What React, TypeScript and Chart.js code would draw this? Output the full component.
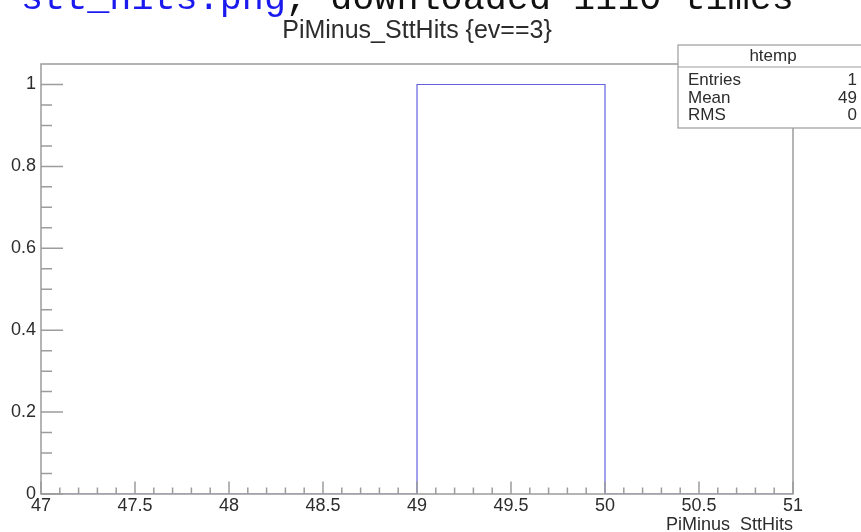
import { useEffect, useRef } from 'react';
import { Chart, registerables, type ChartConfiguration, type Plugin } from 'chart.js';

Chart.register(...registerables);

// histogram htemp: bin edges and bin contents
const BIN_EDGES = [47, 48, 49, 50, 51];
const BIN_COUNTS = [0, 0, 1, 0];
const X_TICK_LABELS = ['47', '47.5', '48', '48.5', '49', '49.5', '50', '50.5', '51'];
const Y_TICK_LABELS = ['0', '0.2', '0.4', '0.6', '0.8', '1'];
const STAT_NAMES = ['Entries', 'Mean', 'RMS'];
const STAT_VALUES = ['1', '49', '0'];
const HIST_NAME = 'htemp';
const TITLE = 'PiMinus_SttHits {ev==3}';
const X_TITLE = 'PiMinus_SttHits';
const FILE_LINK = 'stt_hits.png';
const FILE_NOTE = ', downloaded 1110 times';

const SANS = '"Liberation Sans", Arial, Helvetica, sans-serif';
const MONO = '"Liberation Mono", "Courier New", monospace';
const FRAME = '#9c9c9c';
const TEXT = '#2c2c2c';

const rootPad: Plugin<'line'> = {
  id: 'rootPad',
  afterDatasetsDraw(chart) {
    const { ctx, chartArea: a, scales } = chart;
    const xs = scales.x;
    const ys = scales.y;
    ctx.save();

    // frame + inward ticks (ROOT style)
    ctx.strokeStyle = FRAME;
    ctx.lineWidth = 1.5;
    ctx.strokeRect(a.left, a.top, a.right - a.left, a.bottom - a.top);
    ctx.beginPath();
    for (let i = 0; i * 0.05 < ys.max - 0.01; i++) {
      const p = ys.getPixelForValue(i * 0.05);
      ctx.moveTo(a.left, p);
      ctx.lineTo(a.left + (i % 4 === 0 ? 22 : 11), p);
    }
    for (let i = 0; xs.min + i * 0.1 <= xs.max + 1e-6; i++) {
      const p = xs.getPixelForValue(xs.min + i * 0.1);
      ctx.moveTo(p, a.bottom);
      ctx.lineTo(p, a.bottom - (i % 5 === 0 ? 12.5 : 6.5));
    }
    ctx.stroke();

    // title
    ctx.fillStyle = TEXT;
    ctx.font = `25px ${SANS}`;
    ctx.textAlign = 'center';
    ctx.textBaseline = 'alphabetic';
    ctx.fillText(TITLE, (a.left + a.right) / 2, 38);

    // stats box
    ctx.fillStyle = '#fff';
    ctx.fillRect(678, 45, 200, 83);
    ctx.strokeStyle = FRAME;
    ctx.lineWidth = 1.2;
    ctx.strokeRect(678, 45, 200, 83);
    ctx.beginPath();
    ctx.moveTo(678, 67);
    ctx.lineTo(878, 67);
    ctx.stroke();
    ctx.fillStyle = TEXT;
    ctx.font = `17px ${SANS}`;
    ctx.fillText(HIST_NAME, 773, 61);
    STAT_NAMES.forEach((n, i) => {
      const by = 85 + i * 17.5;
      ctx.textAlign = 'left';
      ctx.fillText(n, 688, by);
      ctx.textAlign = 'right';
      ctx.fillText(STAT_VALUES[i], 857, by);
    });

    // page header line, cut off at the top
    ctx.font = `36.8px ${MONO}`;
    ctx.textAlign = 'left';
    ctx.fillStyle = '#1a1aee';
    ctx.fillText(FILE_LINK, 21, 9);
    const w = ctx.measureText(FILE_LINK).width;
    ctx.fillStyle = '#111';
    ctx.fillText(FILE_NOTE, 21 + w, 9);

    ctx.restore();
  },
};

export default function App() {
  const canvasRef = useRef<HTMLCanvasElement>(null);
  const chartRef = useRef<Chart | null>(null);

  useEffect(() => {
    if (!canvasRef.current) return;
    chartRef.current?.destroy();

    const points = BIN_EDGES.map((e, i) => ({ x: e, y: i < BIN_COUNTS.length ? BIN_COUNTS[i] : 0 }));

    const config: ChartConfiguration<'line'> = {
      type: 'line',
      data: {
        datasets: [{
          label: HIST_NAME,
          data: points,
          stepped: 'before',
          borderColor: '#6363e2',
          borderWidth: 1.2,
          pointRadius: 0,
          fill: false,
        }],
      },
      options: {
        responsive: false,
        animation: false,
        layout: { padding: { left: 0, right: 68, top: 64, bottom: 0 } },
        plugins: { legend: { display: false }, tooltip: { enabled: false } },
        scales: {
          x: {
            type: 'linear',
            min: 47,
            max: 51,
            grid: { display: false, drawTicks: false },
            border: { display: false },
            ticks: {
              stepSize: 0.5,
              autoSkip: false,
              maxRotation: 0,
              padding: 1,
              color: TEXT,
              font: { family: SANS, size: 18 },
              callback: (_v, i) => X_TICK_LABELS[i],
            },
            title: {
              display: true,
              text: X_TITLE,
              align: 'end',
              color: TEXT,
              font: { family: SANS, size: 18, lineHeight: 1 },
              padding: { top: 0, bottom: -2 },
            },
            afterFit: (s) => { s.height = 38; },
          },
          y: {
            min: 0,
            max: 1.05,
            grid: { display: false, drawTicks: false },
            border: { display: false },
            ticks: {
              stepSize: 0.2,
              includeBounds: false,
              padding: 5,
              color: TEXT,
              font: { family: SANS, size: 18 },
              callback: (_v, i) => Y_TICK_LABELS[i],
            },
            afterFit: (s) => { s.width = 41; },
          },
        },
      },
      plugins: [rootPad],
    };
    chartRef.current = new Chart(canvasRef.current, config);

    return () => { chartRef.current?.destroy(); chartRef.current = null; };
  }, []);

  return (
    <div style={{ position: 'absolute', left: 0, top: 0, width: 861, height: 532, background: '#fff' }}>
      <canvas ref={canvasRef} width={861} height={532} style={{ display: 'block' }} />
    </div>
  );
}
